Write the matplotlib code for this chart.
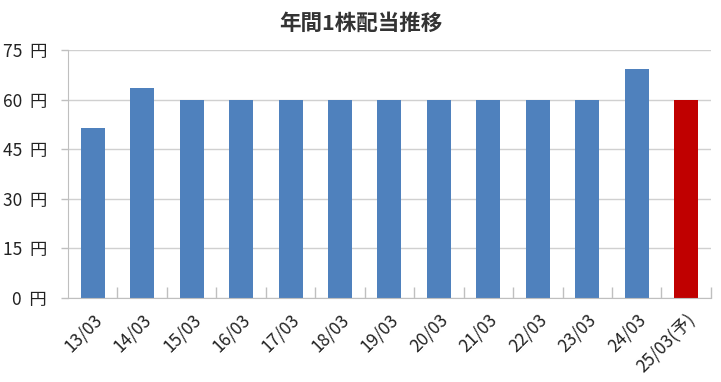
import matplotlib.pyplot as plt
import numpy as np

plt.rcParams['font.family'] = ['Noto Sans CJK JP', 'DejaVu Sans']

labels = ['13/03', '14/03', '15/03', '16/03', '17/03', '18/03', '19/03',
          '20/03', '21/03', '22/03', '23/03', '24/03', '25/03(予)']
dividends = [51.3, 63.4, 60, 60, 60, 60, 60, 60, 60, 60, 60, 69.3, 60]
colors = ['#4F81BD'] * 12 + ['#C00000']
yticks = [0, 15, 30, 45, 60, 75]

fig = plt.figure(figsize=(7.21, 3.82), dpi=100)
ax = fig.add_axes([0.0943, 0.2199, 0.8917, 0.6492])

x = np.arange(len(labels))
ax.bar(x, dividends, width=0.485, color=colors, zorder=2)

ax.set_xlim(-0.5, len(labels) - 0.5)
ax.set_ylim(0, 75)
ax.set_yticks(yticks)
ax.set_yticklabels([f'{v}  円' for v in yticks], fontsize=12.5, color='#222222')
ax.yaxis.grid(True, color='#D0D0D0', linewidth=1, zorder=0)

# x ticks at category boundaries, labels centred on bars
ax.set_xticks(x + 0.5, minor=False)
ax.set_xticklabels([])
ax.tick_params(axis='x', direction='in', length=8, color='#BFBFBF', width=1)
ax.set_xticks(x, minor=True)
ax.set_xticklabels(labels, minor=True, rotation=45, ha='right',
                   rotation_mode='anchor', fontsize=12.5, color='#222222')
ax.tick_params(axis='x', which='minor', length=0, pad=9)
ax.tick_params(axis='y', length=5, color='#BFBFBF', width=1, pad=10)

for side in ['top', 'right']:
    ax.spines[side].set_visible(False)
for side in ['left', 'bottom']:
    ax.spines[side].set_color('#BFBFBF')

fig.text(0.5, 0.94, '年間1株配当推移', ha='center', va='center',
         fontsize=15.5, fontweight='bold', color='#333333')

fig.savefig('out.png', dpi=100)
